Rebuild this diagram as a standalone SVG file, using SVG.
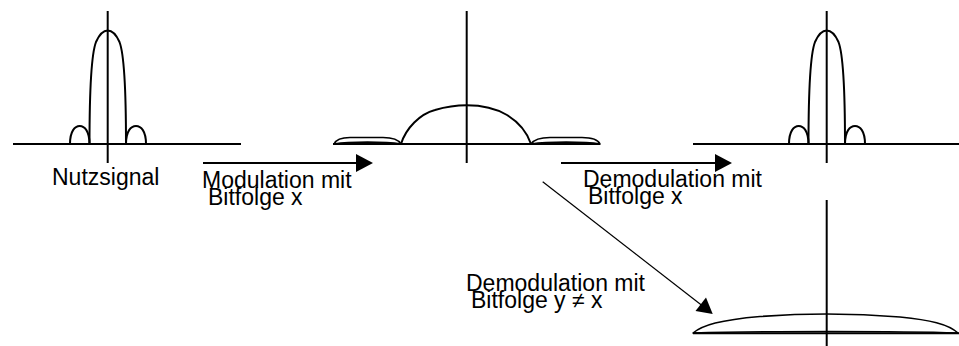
<svg xmlns="http://www.w3.org/2000/svg" width="959" height="346" viewBox="0 0 959 346">
  <style>
    .ax { stroke: #000; stroke-width: 2; fill: none; }
    .cv { stroke: #000; stroke-width: 2; fill: none; stroke-linejoin: round; }
    .ln { stroke: #000; stroke-width: 1.6; fill: none; stroke-linejoin: round; }
    .t { font-family: "Liberation Sans", Arial, sans-serif; font-size: 23px; fill: #000; }
    .ar { stroke: #000; fill: none; }
    .hd { fill: #000; stroke: none; }
  </style>
  <rect width="959" height="346" fill="#fff"/>

  <g id="nutzsignal">
    <line class="ax" x1="13" y1="144" x2="241" y2="144"/>
    <line class="ax" x1="107.7" y1="11" x2="107.7" y2="163"/>
    <path class="cv" d="M89.5,144 C89.5,90 91,55 96,42 C100,33 104,30.5 107.7,30.5 C111.5,30.5 115.5,33 119.5,42 C124.5,55 126,90 126,144"/>
    <path class="cv" d="M70,144 C70,131 75,126 79.7,126 C84.5,126 89.5,131 89.5,144"/>
    <path class="cv" d="M126,144 C126,131 131,126 136,126 C141,126 146,131 146,144"/>
    <text class="t" x="52" y="185">Nutzsignal</text>
  </g>

  <g id="moduliert">
    <line class="ax" x1="333" y1="144" x2="600" y2="144"/>
    <line class="ax" x1="466.7" y1="11" x2="466.7" y2="163"/>
    <path class="cv" d="M401,144 C406,128 420,114 435,110 C447,106.5 457,105.3 466.7,105.3 C480,105.3 495,108 507,115 C520,123 527,132 531,144"/>
    <path class="ln" d="M334,144 C336,139.5 341,137.5 350,137.5 L383,137.5 C393,137.5 398.5,139.5 401,144 C385,141.5 350,141.5 334,144 Z"/>
    <path class="ln" d="M531,144 C534,139.5 540,137.5 550,137.5 L582,137.5 C592,137.5 598,139.5 600,144 C585,141.5 548,141.5 531,144 Z"/>
  </g>

  <g id="demoduliert-x">
    <line class="ax" x1="693" y1="144" x2="959" y2="144"/>
    <line class="ax" x1="826.7" y1="11" x2="826.7" y2="163"/>
    <path class="cv" d="M808.5,144 C808.5,90 810,55 815,42 C819,33 823,30.5 826.7,30.5 C830.5,30.5 834.5,33 838.5,42 C843.5,55 845,90 845,144"/>
    <path class="cv" d="M789,144 C789,131 794,126 798.7,126 C803.5,126 808.5,131 808.5,144"/>
    <path class="cv" d="M845,144 C845,131 850,126 855,126 C860,126 865,131 865,144"/>
  </g>

  <g id="demoduliert-y">
    <line class="ax" x1="693" y1="333.3" x2="959" y2="333.3"/>
    <line class="ax" x1="826.7" y1="200" x2="826.7" y2="346"/>
    <path class="ln" d="M693,333 C703,325 720,320 760,316.5 C790,314.3 810,314 826.7,314 C845,314 870,314.5 900,317 C930,320 948,324 958,333 C900,331 760,331 693,333 Z"/>
  </g>

  <g id="connectors">
    <line class="ar" stroke-width="2" x1="203" y1="163" x2="358" y2="163"/>
    <polygon class="hd" points="373,163 356,154 356,172"/>
    <line class="ar" stroke-width="2" x1="561" y1="163" x2="717" y2="163"/>
    <polygon class="hd" points="732,163 715,154 715,172"/>
    <line class="ar" stroke-width="1.2" x1="542.7" y1="181.7" x2="702" y2="305.5"/>
    <polygon class="hd" points="712.7,314 695.5,311 706,297.5"/>
  </g>

  <g id="labels">
    <text class="t" x="202" y="188">Modulation mit</text>
    <text class="t" x="208" y="205">Bitfolge x</text>
    <text class="t" x="583" y="187">Demodulation mit</text>
    <text class="t" x="588" y="204">Bitfolge x</text>
    <text class="t" x="466" y="291">Demodulation mit</text>
    <text class="t" x="471" y="308">Bitfolge y ≠ x</text>
  </g>
</svg>
